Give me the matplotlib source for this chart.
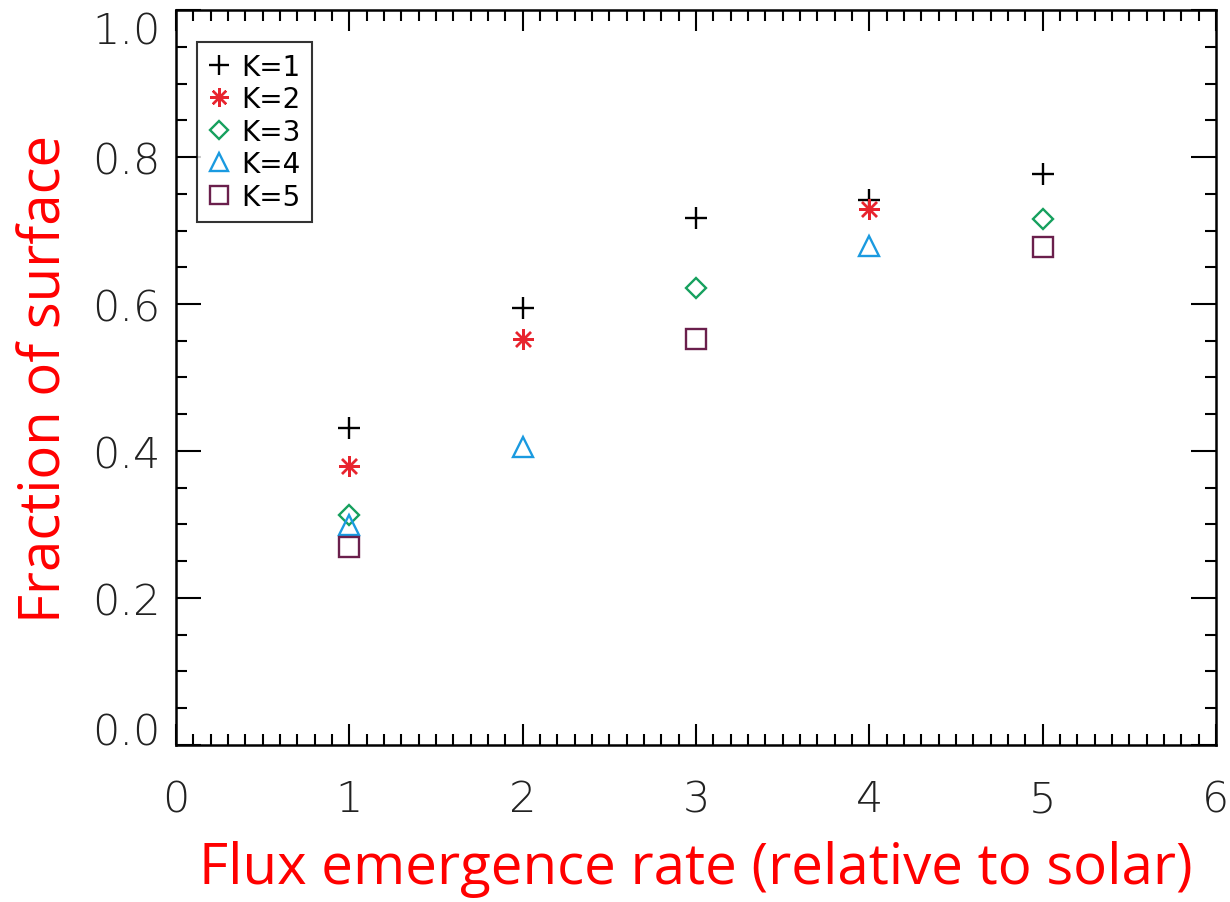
import numpy as np
import matplotlib.pyplot as plt
from matplotlib.ticker import MultipleLocator

nan = np.nan
rate = [1, 2, 3, 4, 5]
frac_k1 = [0.431, 0.594, 0.717, 0.741, 0.777]
frac_k2 = [0.380, 0.553, nan, 0.729, nan]
frac_k3 = [0.313, nan, 0.622, nan, 0.716]
frac_k4 = [0.299, 0.405, nan, 0.679, nan]
frac_k5 = [0.270, nan, 0.553, nan, 0.678]
labels = ['K=1', 'K=2', 'K=3', 'K=4', 'K=5']

fig = plt.figure(figsize=(12.3, 9.03), dpi=100)
ax = fig.add_axes([0.1431, 0.1739, 0.8455, 0.8139])

styles = [
    dict(marker='+', color='black', ms=16, mew=1.7),
    dict(marker=(8, 2, 0), color='#e8242e', ms=15, mew=1.7),
    dict(marker='D', color='#16a05e', ms=10, mew=1.7, mfc='none'),
    dict(marker='^', color='#1a9ae0', ms=15, mew=1.7, mfc='none'),
    dict(marker='s', color='#6a1f4c', ms=14, mew=1.7, mfc='none'),
]
for ys, lab, st in zip([frac_k1, frac_k2, frac_k3, frac_k4, frac_k5], labels, styles):
    ax.plot(rate, ys, linestyle='none', label=lab, **st)

ax.set_xlim(0, 6)
ax.set_ylim(0, 1.0)
ax.xaxis.set_major_locator(MultipleLocator(1))
ax.xaxis.set_minor_locator(MultipleLocator(0.1))
ax.yaxis.set_major_locator(MultipleLocator(0.2))
ax.yaxis.set_minor_locator(MultipleLocator(0.05))
ax.yaxis.set_major_formatter(plt.FormatStrFormatter('%.1f'))
ax.tick_params(which='both', direction='in', top=True, right=True, width=1.5,
               labelsize=31, labelcolor='#222222')
ax.tick_params(which='major', length=15)
ax.tick_params(which='minor', length=8)
ax.tick_params(axis='y', which='major', length=18, pad=11)
ax.tick_params(axis='x', which='major', pad=24)
for sp in ax.spines.values():
    sp.set_linewidth(1.8)

ax.set_xlabel('Flux emergence rate (relative to solar)', color='red',
              fontsize=40.6, family='Open Sans', labelpad=15)
ax.set_ylabel('Fraction of surface', color='red',
              fontsize=40.5, family='Open Sans', labelpad=13)

leg = ax.legend(loc='upper left', bbox_to_anchor=(0.02, 0.957), borderaxespad=0,
                fontsize=20, frameon=True, fancybox=False, edgecolor='black',
                handlelength=0.8, handletextpad=0.4, borderpad=0.4,
                labelspacing=0.16, markerscale=0.9)
leg.get_frame().set_linewidth(1.5)

# end labels sit inside the axis span
fig.canvas.draw()
for lbl in ax.get_yticklabels():
    lbl.set_fontweight('light')
    if lbl.get_text() == '1.0':
        lbl.set_va('top')
    elif lbl.get_text() == '0.0':
        lbl.set_va('baseline')
for lbl in ax.get_xticklabels():
    lbl.set_fontweight('light')

fig.savefig('out.png', dpi=100)
